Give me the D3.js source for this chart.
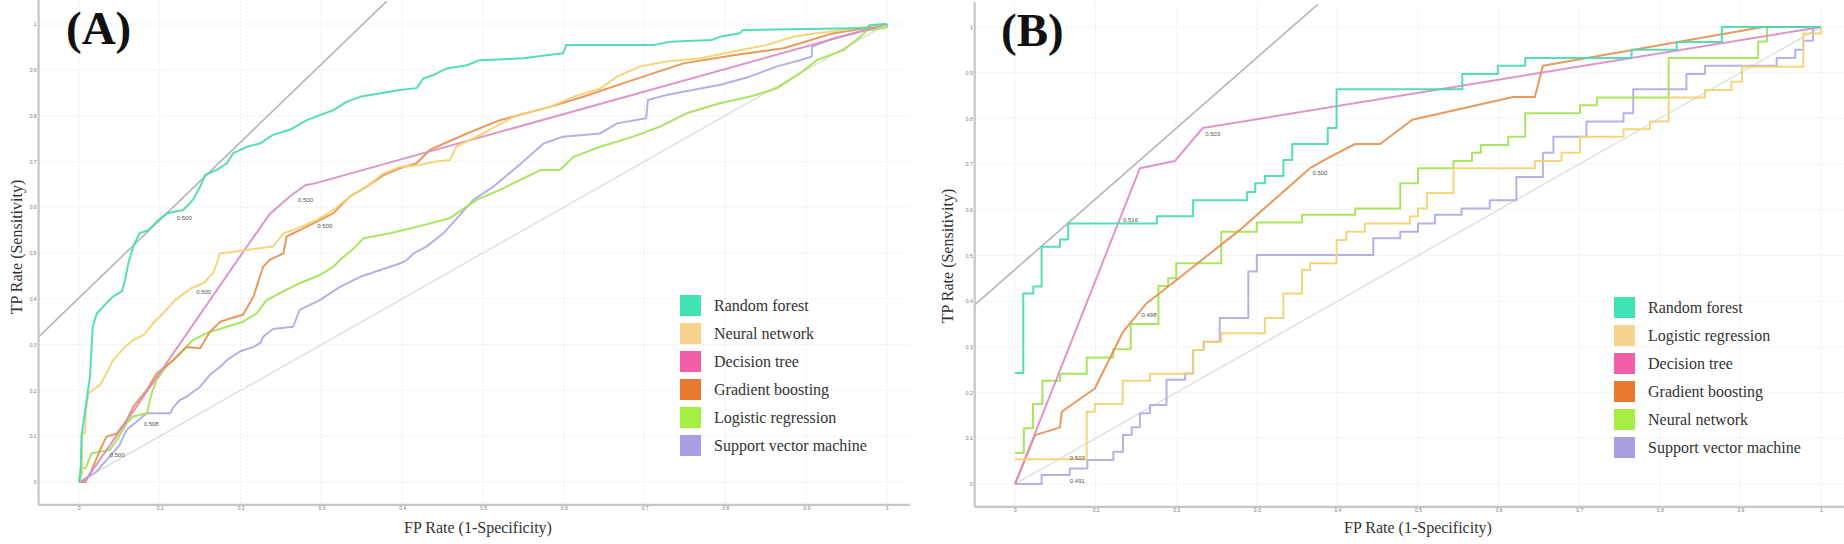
<!DOCTYPE html>
<html><head><meta charset="utf-8">
<script src="https://cdn.jsdelivr.net/npm/d3@7"></script>
<style>body{margin:0;background:#fff;overflow:hidden}</style>
</head><body>
<svg id="chart" width="1844" height="544"></svg>
<script>
// ---------------- DATA ----------------
const tickValues = [0,0.1,0.2,0.3,0.4,0.5,0.6,0.7,0.8,0.9,1];
const tickLabels = ["0","0.1","0.2","0.3","0.4","0.5","0.6","0.7","0.8","0.9","1"];

const namesA = ["Random forest","Neural network","Decision tree","Gradient boosting","Logistic regression","Support vector machine"];
const namesB = ["Random forest","Logistic regression","Decision tree","Gradient boosting","Neural network","Support vector machine"];

// Panel A ROC points [FPR, TPR]
const rfA = [[0,0],[0.002,0.02],[0.003,0.099],[0.010,0.186],[0.0136,0.230],[0.017,0.339],[0.022,0.368],[0.030,0.383],[0.042,0.405],[0.053,0.416],[0.057,0.441],[0.061,0.477],[0.067,0.514],[0.075,0.543],[0.086,0.550],[0.096,0.568],[0.109,0.587],[0.129,0.594],[0.141,0.616],[0.150,0.645],[0.156,0.670],[0.170,0.681],[0.183,0.696],[0.191,0.718],[0.208,0.732],[0.224,0.739],[0.240,0.758],[0.261,0.769],[0.282,0.790],[0.298,0.801],[0.315,0.812],[0.331,0.830],[0.348,0.841],[0.373,0.849],[0.397,0.856],[0.418,0.860],[0.426,0.881],[0.439,0.889],[0.455,0.903],[0.480,0.910],[0.496,0.921],[0.550,0.925],[0.579,0.932],[0.599,0.936],[0.603,0.954],[0.711,0.954],[0.731,0.961],[0.783,0.965],[0.793,0.972],[0.818,0.980],[0.822,0.987],[0.975,0.991],[0.979,0.998],[1,1]];
const nnA = [[0,0],[0.004,0.02],[0.004,0.106],[0.0074,0.106],[0.0085,0.157],[0.0116,0.194],[0.0177,0.201],[0.026,0.212],[0.034,0.237],[0.042,0.266],[0.057,0.295],[0.067,0.310],[0.080,0.321],[0.092,0.347],[0.104,0.368],[0.117,0.394],[0.127,0.408],[0.139,0.423],[0.154,0.434],[0.166,0.456],[0.172,0.485],[0.174,0.499],[0.240,0.514],[0.253,0.543],[0.265,0.550],[0.294,0.572],[0.315,0.594],[0.335,0.623],[0.356,0.645],[0.377,0.674],[0.397,0.688],[0.422,0.692],[0.439,0.699],[0.459,0.703],[0.467,0.732],[0.500,0.761],[0.542,0.801],[0.583,0.819],[0.612,0.841],[0.645,0.859],[0.666,0.885],[0.694,0.907],[0.727,0.918],[0.769,0.925],[0.810,0.940],[0.851,0.954],[0.884,0.972],[0.913,0.980],[0.946,0.987],[0.975,0.994],[1,1]];
const dtA = [[0,0],[0.008,0.003],[0.205,0.507],[0.236,0.585],[0.262,0.625],[0.280,0.648],[0.292,0.652],[1,1]];
const gbA = [[0,0],[0.008,0],[0.0157,0.026],[0.026,0.070],[0.034,0.099],[0.047,0.106],[0.059,0.135],[0.067,0.164],[0.084,0.201],[0.096,0.237],[0.117,0.266],[0.133,0.295],[0.150,0.292],[0.162,0.328],[0.175,0.350],[0.187,0.357],[0.203,0.365],[0.216,0.405],[0.228,0.470],[0.236,0.485],[0.253,0.499],[0.257,0.536],[0.273,0.550],[0.298,0.572],[0.315,0.587],[0.335,0.623],[0.356,0.645],[0.377,0.670],[0.397,0.685],[0.418,0.696],[0.434,0.725],[0.480,0.761],[0.521,0.790],[0.583,0.819],[0.624,0.841],[0.686,0.878],[0.748,0.914],[0.810,0.932],[0.872,0.947],[0.934,0.980],[0.975,0.991],[1,1]];
const lrA = [[0,0],[0.002,0.030],[0.008,0.030],[0.0157,0.063],[0.038,0.070],[0.047,0.092],[0.059,0.128],[0.067,0.143],[0.084,0.150],[0.090,0.194],[0.096,0.223],[0.108,0.252],[0.125,0.281],[0.141,0.310],[0.158,0.325],[0.183,0.339],[0.203,0.350],[0.220,0.368],[0.232,0.397],[0.253,0.416],[0.273,0.434],[0.298,0.452],[0.315,0.470],[0.323,0.485],[0.340,0.510],[0.352,0.532],[0.385,0.543],[0.418,0.557],[0.459,0.576],[0.492,0.616],[0.521,0.638],[0.571,0.681],[0.595,0.681],[0.612,0.710],[0.645,0.732],[0.686,0.754],[0.719,0.776],[0.752,0.805],[0.793,0.827],[0.830,0.841],[0.863,0.859],[0.892,0.892],[0.913,0.921],[0.946,0.943],[0.962,0.965],[0.975,0.985],[1,0.993],[1,1]];
const svmA = [[0,0],[0.020,0.020],[0.040,0.060],[0.050,0.080],[0.059,0.114],[0.070,0.130],[0.084,0.150],[0.113,0.150],[0.117,0.164],[0.125,0.179],[0.133,0.186],[0.150,0.208],[0.162,0.234],[0.175,0.252],[0.183,0.266],[0.199,0.285],[0.216,0.295],[0.224,0.303],[0.228,0.317],[0.240,0.334],[0.265,0.339],[0.273,0.376],[0.298,0.397],[0.323,0.426],[0.348,0.448],[0.373,0.463],[0.397,0.477],[0.406,0.485],[0.414,0.499],[0.430,0.514],[0.451,0.543],[0.488,0.616],[0.513,0.645],[0.542,0.688],[0.575,0.739],[0.599,0.754],[0.645,0.761],[0.666,0.783],[0.702,0.794],[0.704,0.834],[0.727,0.845],[0.769,0.859],[0.793,0.867],[0.830,0.885],[0.863,0.907],[0.892,0.921],[0.907,0.929],[0.907,0.950],[0.934,0.969],[0.967,0.983],[1,1]];

// Panel B ROC points [FPR, TPR] (step curves: x where the step rises, TPR after rise)
const rfB = [[0,0.243],[0.0103,0.417],[0.0227,0.432],[0.033,0.519],[0.0558,0.535],[0.066,0.570],[0.176,0.586],[0.221,0.621],[0.288,0.639],[0.298,0.658],[0.310,0.674],[0.333,0.709],[0.344,0.744],[0.388,0.779],[0.399,0.864],[0.555,0.897],[0.599,0.915],[0.633,0.932],[0.765,0.950],[0.821,0.967],[0.877,1.0],[1,1]];
const lrB = [[0,0.054],[0.089,0.158],[0.099,0.175],[0.1336,0.226],[0.1675,0.241],[0.221,0.293],[0.234,0.311],[0.256,0.330],[0.310,0.363],[0.333,0.417],[0.356,0.468],[0.366,0.483],[0.399,0.534],[0.411,0.552],[0.434,0.570],[0.490,0.586],[0.500,0.603],[0.511,0.637],[0.544,0.691],[0.645,0.707],[0.678,0.725],[0.701,0.760],[0.755,0.776],[0.788,0.793],[0.811,0.846],[0.856,0.862],[0.889,0.880],[0.902,0.913],[0.978,0.986],[1,1]];
const dtB = [[0,0],[0.155,0.691],[0.1985,0.707],[0.233,0.779],[1,1]];
const gbB = [[0,0],[0.0248,0.107],[0.0558,0.124],[0.058,0.158],[0.099,0.209],[0.134,0.333],[0.163,0.395],[0.200,0.446],[0.279,0.556],[0.366,0.691],[0.391,0.716],[0.422,0.744],[0.453,0.744],[0.493,0.797],[0.618,0.847],[0.645,0.847],[0.655,0.915],[0.928,1.0],[1,1]];
const nnB = [[0,0.068],[0.011,0.122],[0.0223,0.175],[0.034,0.226],[0.0558,0.241],[0.089,0.277],[0.122,0.295],[0.1435,0.350],[0.178,0.433],[0.190,0.450],[0.200,0.483],[0.256,0.552],[0.300,0.572],[0.356,0.589],[0.422,0.603],[0.478,0.658],[0.500,0.691],[0.544,0.707],[0.567,0.725],[0.578,0.742],[0.612,0.760],[0.633,0.811],[0.701,0.829],[0.722,0.846],[0.811,0.932],[0.922,0.968],[0.933,1.0],[1,1]];
const svmB = [[0,0],[0.033,0.0197],[0.068,0.034],[0.0898,0.0525],[0.122,0.0707],[0.134,0.107],[0.1448,0.124],[0.155,0.155],[0.1675,0.173],[0.188,0.228],[0.211,0.242],[0.221,0.293],[0.234,0.311],[0.254,0.363],[0.2895,0.465],[0.300,0.501],[0.4445,0.538],[0.478,0.552],[0.500,0.570],[0.521,0.589],[0.554,0.603],[0.589,0.621],[0.622,0.672],[0.655,0.725],[0.668,0.760],[0.709,0.793],[0.755,0.811],[0.767,0.864],[0.833,0.897],[0.856,0.915],[0.945,0.932],[0.968,0.950],[0.978,0.970],[0.990,1.0],[1,1]];

// threshold annotations
const thrTextA = ["0.500","0.500","0.500","0.500","0.508","0.500"];
const thrPosA = [[0.121,0.576],[0.145,0.413],[0.271,0.614],[0.295,0.559],[0.080,0.126],[0.038,0.057]];
const thrTextB = ["0.516","0.503","0.503","0.500","0.498","0.491"];
const thrPosB = [[0.134,0.576],[0.068,0.056],[0.236,0.764],[0.369,0.680],[0.157,0.368],[0.068,0.005]];

// iso-performance (tangent) lines
const isoA = [[-0.05,0.317],[0.381,1.05]];
const isoB = [[-0.05,0.392],[0.376,1.05]];
const diag = [[0,0],[1,1]];

// ---------------- STYLE ----------------
const legendColors = ["#40e3b3","#f6d48f","#f25ea8","#e8792f","#a6ef42","#a99fe0"];
const lineColors   = ["#45dab4","#f2d270","#dc8cc4","#e8904f","#a2e350","#aeaae4"];
const serif = "'Liberation Serif','Times New Roman',serif";
const sans = "'Liberation Sans',Arial,sans-serif";

const svg = d3.select("#chart");

function drawPanel(cfg){
  const x = d3.scaleLinear().domain([0,1]).range(cfg.xr);
  const y = d3.scaleLinear().domain([0,1]).range(cfg.yr);
  const g = svg.append("g");
  const x0 = x(-0.05), x1 = x(cfg.xmax), y0 = y(-0.05), y1 = y(1.05);
  const clipId = "clip" + cfg.id;
  g.append("clipPath").attr("id", clipId).append("rect")
    .attr("x", x0).attr("y", y1).attr("width", x1 - x0).attr("height", y0 - y1);

  // grid
  const grid = g.append("g").attr("stroke","#ebebeb").attr("stroke-width",1).attr("stroke-dasharray","2,2");
  tickValues.forEach(v=>{
    grid.append("line").attr("x1",x(v)).attr("x2",x(v)).attr("y1",y1).attr("y2",y0);
    grid.append("line").attr("x1",x0).attr("x2",x1).attr("y1",y(v)).attr("y2",y(v));
  });

  const plot = g.append("g").attr("clip-path",`url(#${clipId})`);
  const lin = d3.line().x(d=>x(d[0])).y(d=>y(d[1]));
  plot.append("path").attr("d",lin(diag)).attr("fill","none").attr("stroke","#e0e0e0").attr("stroke-width",1.5);
  plot.append("path").attr("d",lin(cfg.iso)).attr("fill","none").attr("stroke","#b8b8b8").attr("stroke-width",1.7);

  const order = [5,4,3,2,1,0];
  order.forEach(i=>{
    const ln = d3.line().x(d=>x(d[0])).y(d=>y(d[1])).curve(cfg.curves[i]);
    plot.append("path").attr("d", ln(cfg.series[i])).attr("fill","none")
      .attr("stroke", lineColors[i]).attr("stroke-width",2).attr("stroke-opacity",0.92)
      .attr("stroke-linejoin","round");
  });

  // threshold labels
  cfg.thrPos.forEach((p,i)=>{
    g.append("text").attr("x",x(p[0])).attr("y",y(p[1])).attr("dominant-baseline","middle")
      .attr("font-family",sans).attr("font-size",6).attr("fill","#555").text(cfg.thrText[i]);
  });

  // axes lines
  g.append("line").attr("x1",x0).attr("x2",x0).attr("y1",y1-2).attr("y2",y0).attr("stroke","#c6c6c6").attr("stroke-width",2.2);
  g.append("line").attr("x1",x0).attr("x2",x1).attr("y1",y0).attr("y2",y0).attr("stroke","#c6c6c6").attr("stroke-width",2.2);

  // tick labels via axes (no tick lines)
  const xAxis = d3.axisBottom(x).tickValues(tickValues).tickFormat((d,i)=>tickLabels[i]).tickSize(0).tickPadding(2);
  const yAxis = d3.axisLeft(y).tickValues(tickValues).tickFormat((d,i)=>tickLabels[i]).tickSize(0).tickPadding(2);
  const gx = g.append("g").attr("transform",`translate(0,${y0})`).call(xAxis);
  const gy = g.append("g").attr("transform",`translate(${x0},0)`).call(yAxis);
  [gx,gy].forEach(a=>{
    a.select(".domain").remove();
    a.selectAll("text").attr("font-family",sans).attr("font-size",5).attr("fill","#777");
  });

  // axis titles
  g.append("text").attr("x",cfg.xTitle[0]).attr("y",cfg.xTitle[1]).attr("text-anchor","middle")
    .attr("font-family",serif).attr("font-size",16).attr("fill","#333").text("FP Rate (1-Specificity)");
  g.append("text").attr("transform",`translate(${cfg.yTitle[0]},${cfg.yTitle[1]}) rotate(-90)`).attr("text-anchor","middle")
    .attr("font-family",serif).attr("font-size",16).attr("fill","#333").text("TP Rate (Sensitivity)");

  // panel letter
  g.append("text").attr("x",cfg.letterPos[0]).attr("y",cfg.letterPos[1])
    .attr("font-family",serif).attr("font-weight","bold").attr("font-size",47).attr("fill","#111").text(cfg.letter);

  // legend
  const lg = g.append("g").attr("transform",`translate(${cfg.legend[0]},${cfg.legend[1]})`);
  cfg.names.forEach((n,i)=>{
    lg.append("rect").attr("x",0).attr("y",i*28).attr("width",21).attr("height",21).attr("fill",legendColors[i]);
    lg.append("text").attr("x",34).attr("y",i*28+16).attr("font-family",serif).attr("font-size",16).attr("fill","#333").text(n);
  });
}

const step = d3.curveStepAfter, linear = d3.curveLinear;

drawPanel({id:"A", xr:[79,887], yr:[482,24], xmax:1.0285, iso:isoA,
  series:[rfA,nnA,dtA,gbA,lrA,svmA], curves:[linear,linear,linear,linear,linear,linear],
  names:namesA, thrText:thrTextA, thrPos:thrPosA,
  xTitle:[478,533], yTitle:[22,247], letter:"(A)", letterPos:[66,44], legend:[680,295]});

drawPanel({id:"B", xr:[1015,1821], yr:[484,27], xmax:1.03, iso:isoB,
  series:[rfB,lrB,dtB,gbB,nnB,svmB], curves:[step,step,linear,linear,step,step],
  names:namesB, thrText:thrTextB, thrPos:thrPosB,
  xTitle:[1418,533], yTitle:[953,256], letter:"(B)", letterPos:[1001,46], legend:[1614,297]});
</script>
</body></html>
